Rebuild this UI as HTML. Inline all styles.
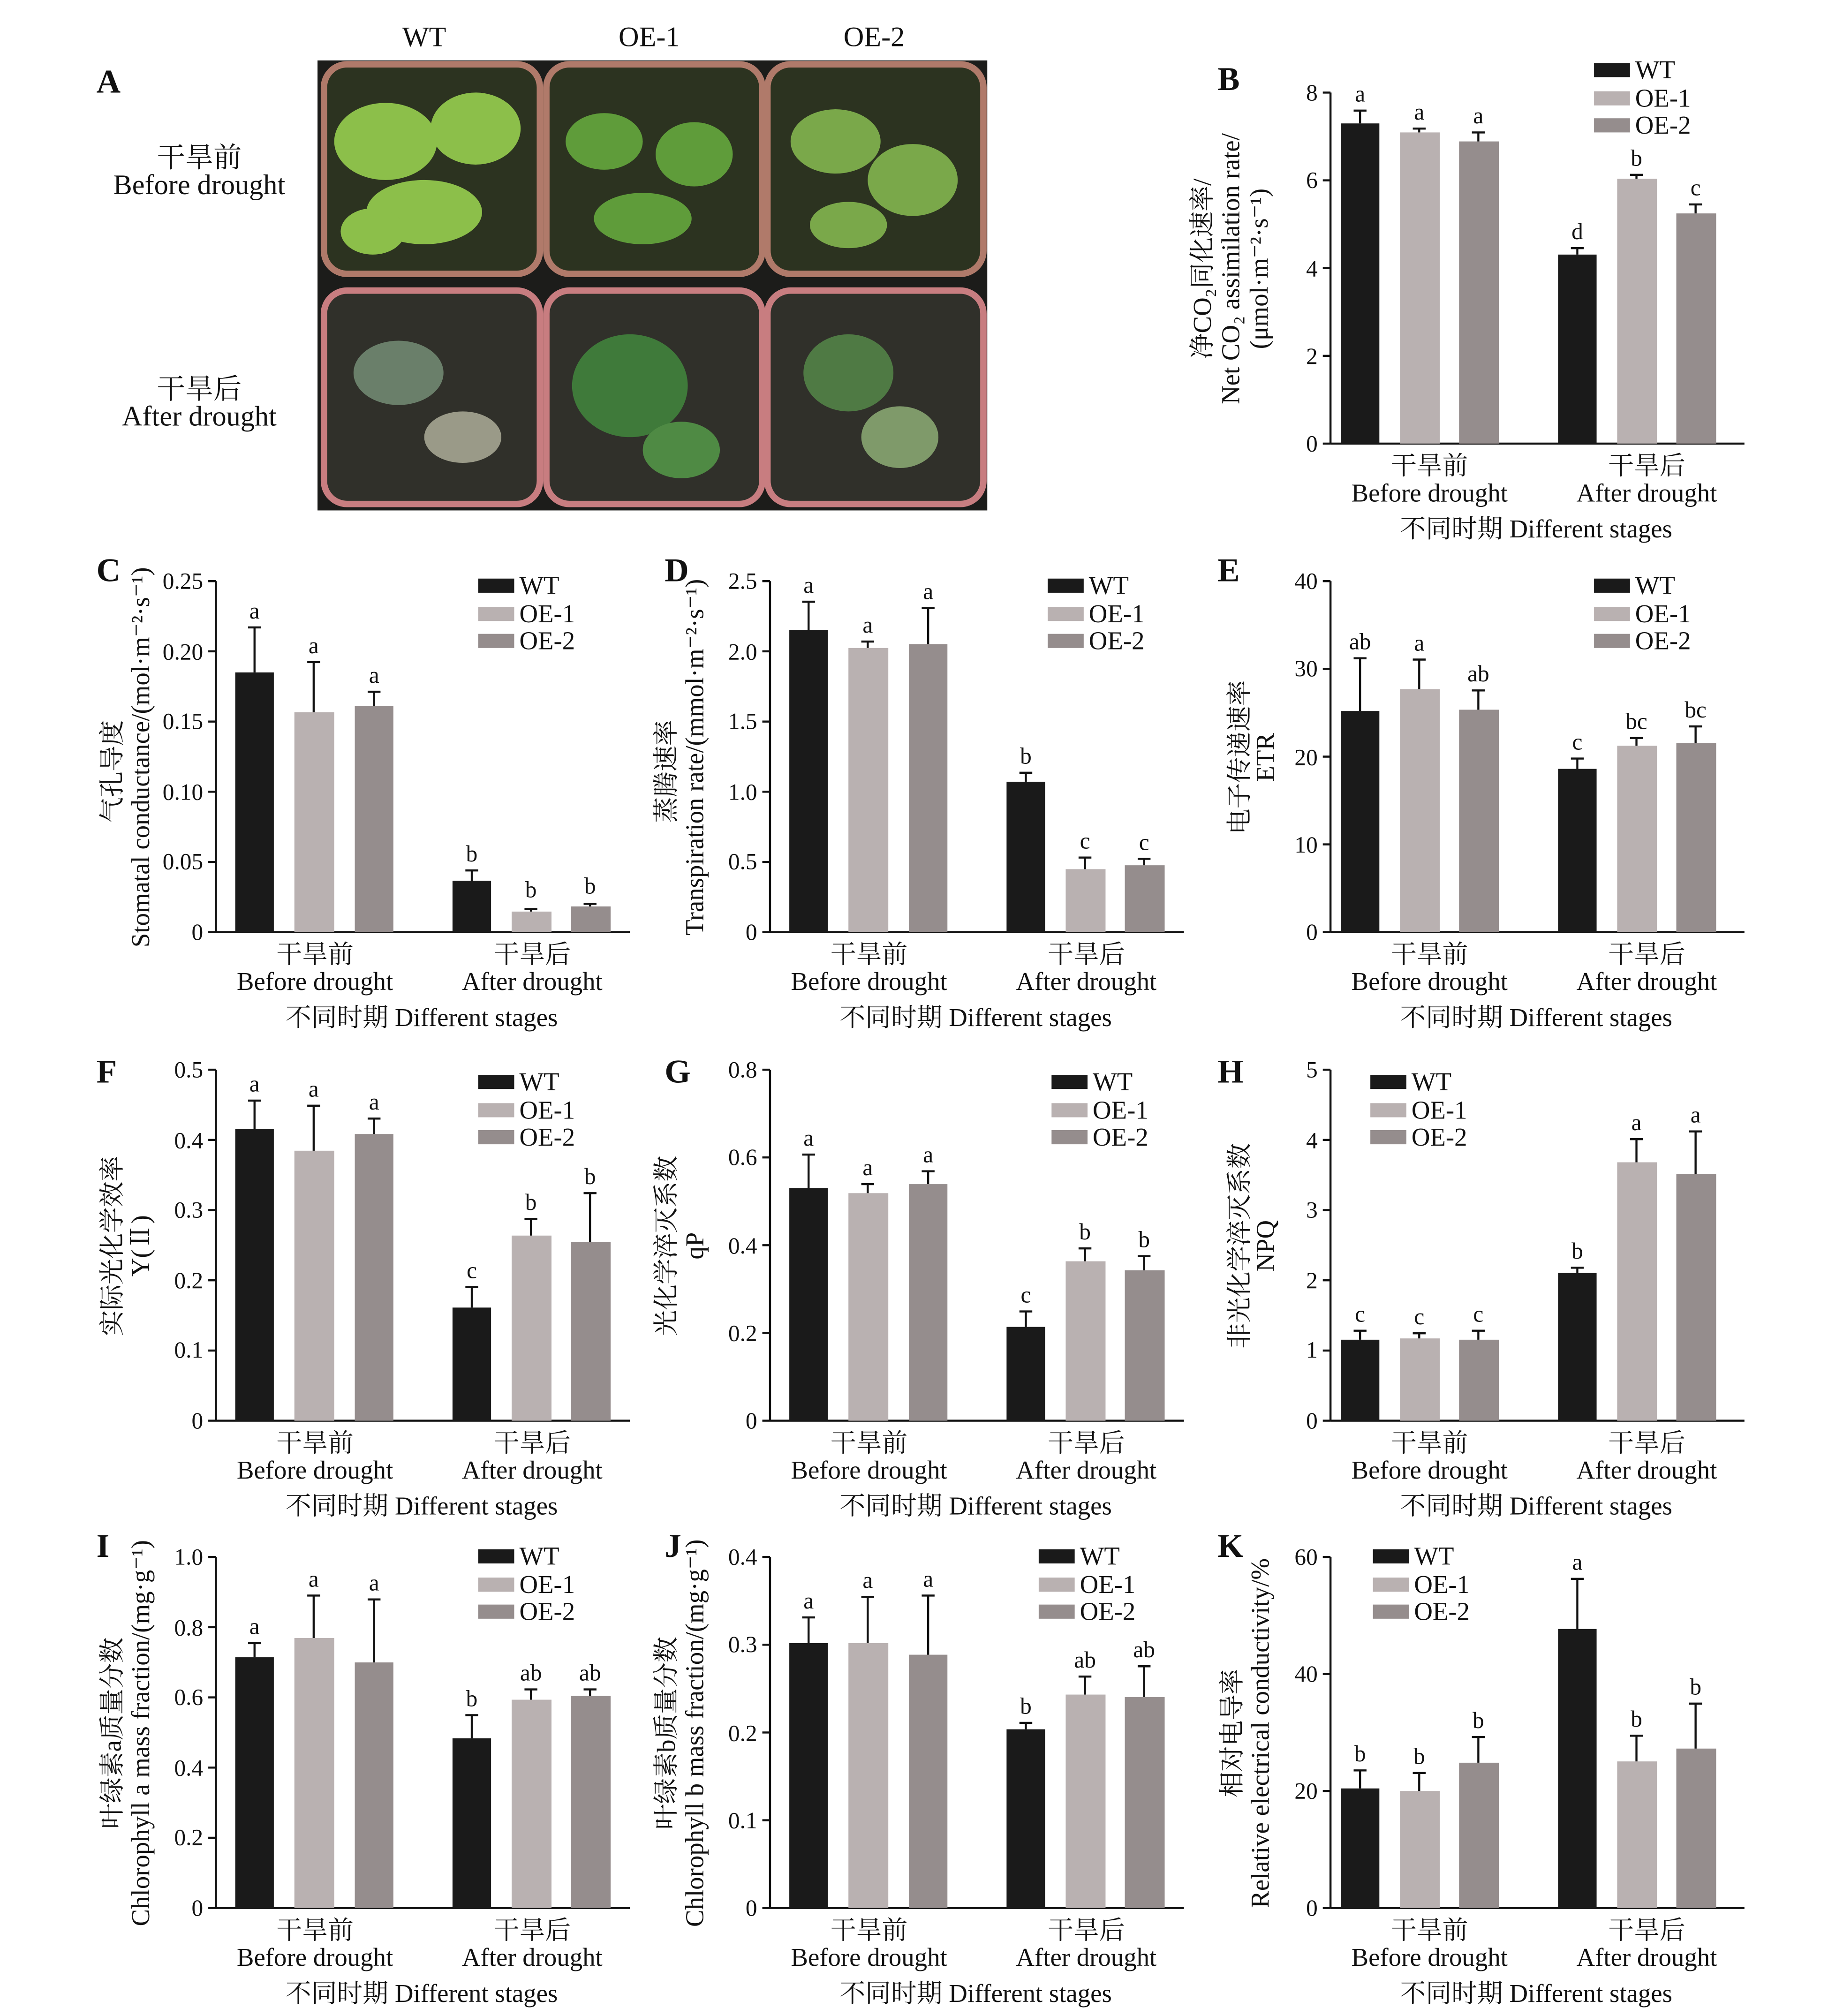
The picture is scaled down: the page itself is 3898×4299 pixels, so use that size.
<!DOCTYPE html>
<html><head><meta charset="utf-8"><style>
html,body{margin:0;padding:0;background:#fff}
svg{display:block}
text{font-family:"Liberation Serif","Noto Serif CJK SC",serif;fill:#111}
.t{font-size:18px}
.l{font-size:20px}
.p{font-size:26px;font-weight:bold}
.k{fill:#1a1a1a}.o1{fill:#b9b1b1}.o2{fill:#958d8d}
.ax line,.ax path{stroke:#111;stroke-width:1.6;fill:none}
.e line{stroke:#111;stroke-width:1.6}
</style></head><body>
<svg width="3898" height="4299" viewBox="0 0 1422 1568" preserveAspectRatio="none" xmlns="http://www.w3.org/2000/svg">
<defs>
<g id="bg">
<path class="ax" d="M0,0H322M0,0V-273" stroke="#111" stroke-width="1.6" fill="none"/>
<text class="l" x="77" y="24" text-anchor="middle">干旱前</text>
<text class="l" x="77" y="45" text-anchor="middle">Before drought</text>
<text class="l" x="246" y="24" text-anchor="middle">干旱后</text>
<text class="l" x="246" y="45" text-anchor="middle">After drought</text>
<text class="l" x="160" y="73" text-anchor="middle">不同时期 Different stages</text>
</g>
<g id="lg">
<rect class="k" x="0" y="-6" width="28" height="11"/><text class="l" x="32" y="6">WT</text>
<rect class="o1" x="0" y="16" width="28" height="11"/><text class="l" x="32" y="28">OE-1</text>
<rect class="o2" x="0" y="37" width="28" height="11"/><text class="l" x="32" y="49">OE-2</text>
</g>
</defs>

<!-- Panel A -->
<text class="p" x="75" y="72">A</text>
<text class="l" x="330" y="36" text-anchor="middle" style="font-size:22px">WT</text>
<text class="l" x="505" y="36" text-anchor="middle" style="font-size:22px">OE-1</text>
<text class="l" x="680" y="36" text-anchor="middle" style="font-size:22px">OE-2</text>
<text class="l" x="155" y="130" text-anchor="middle" style="font-size:22px">干旱前</text>
<text class="l" x="155" y="151" text-anchor="middle" style="font-size:22px">Before drought</text>
<text class="l" x="155" y="310" text-anchor="middle" style="font-size:22px">干旱后</text>
<text class="l" x="155" y="331" text-anchor="middle" style="font-size:22px">After drought</text>
<rect x="247" y="47" width="521" height="350" fill="#1c1c1a"/>
<g stroke="#b07a6a" stroke-width="5">
<rect x="252" y="50" width="168" height="163" rx="18" fill="#2c3320"/>
<rect x="425" y="50" width="168" height="163" rx="18" fill="#2c3320"/>
<rect x="597" y="50" width="168" height="163" rx="18" fill="#2c3320"/>
<rect x="252" y="226" width="168" height="166" rx="18" fill="#30302a" stroke="#c87d80"/>
<rect x="425" y="226" width="168" height="166" rx="18" fill="#30302a" stroke="#c87d80"/>
<rect x="597" y="226" width="168" height="166" rx="18" fill="#30302a" stroke="#c87d80"/>
</g>
<g fill="#8cbf4a">
<ellipse cx="300" cy="110" rx="40" ry="30"/><ellipse cx="370" cy="100" rx="35" ry="28"/><ellipse cx="330" cy="165" rx="45" ry="25"/><ellipse cx="290" cy="180" rx="25" ry="18"/>
<ellipse cx="470" cy="110" rx="30" ry="22" fill="#5f9c3a"/><ellipse cx="540" cy="120" rx="30" ry="25" fill="#5f9c3a"/><ellipse cx="500" cy="170" rx="38" ry="20" fill="#5f9c3a"/>
<ellipse cx="650" cy="110" rx="35" ry="25" fill="#7aa84a"/><ellipse cx="710" cy="140" rx="35" ry="28" fill="#7aa84a"/><ellipse cx="660" cy="175" rx="30" ry="18" fill="#7aa84a"/>
</g>
<g fill="#4a7a4a">
<ellipse cx="310" cy="290" rx="35" ry="25" fill="#6a7f6a"/><ellipse cx="360" cy="340" rx="30" ry="20" fill="#9a9a88"/>
<ellipse cx="490" cy="300" rx="45" ry="40" fill="#3f7a3a"/><ellipse cx="530" cy="350" rx="30" ry="22" fill="#4f8a44"/>
<ellipse cx="660" cy="290" rx="35" ry="30" fill="#4f7a44"/><ellipse cx="700" cy="340" rx="30" ry="24" fill="#7f9a6a"/>
</g>

<!-- Panel B -->
<g transform="translate(1035,345)">
<use href="#bg"/><text class="p" x="-88" y="-275">B</text>
<g class="ax"><line x1="0" x2="-6" y1="0" y2="0"/><line x1="0" x2="-6" y1="-68.25" y2="-68.25"/><line x1="0" x2="-6" y1="-136.5" y2="-136.5"/><line x1="0" x2="-6" y1="-204.75" y2="-204.75"/><line x1="0" x2="-6" y1="-273" y2="-273"/></g>
<g class="t" text-anchor="end"><text x="-10" y="6">0</text><text x="-10" y="-62">2</text><text x="-10" y="-130">4</text><text x="-10" y="-199">6</text><text x="-10" y="-267">8</text></g>
<text class="l" transform="translate(-93,-136) rotate(-90)" text-anchor="middle">净CO₂同化速率/</text>
<text class="l" transform="translate(-71,-136) rotate(-90)" text-anchor="middle">Net CO₂ assimilation rate/</text>
<text class="l" transform="translate(-49,-136) rotate(-90)" text-anchor="middle">(μmol·m⁻²·s⁻¹)</text>
<rect class="k" x="8" y="-249" width="30" height="249"/><rect class="o1" x="54" y="-242" width="31" height="242"/><rect class="o2" x="100" y="-235" width="31" height="235"/>
<rect class="k" x="177" y="-147" width="30" height="147"/><rect class="o1" x="223" y="-206" width="31" height="206"/><rect class="o2" x="269" y="-179" width="31" height="179"/>
<g class="e"><line x1="23" x2="23" y1="-249" y2="-259"/><line x1="18" x2="28" y1="-259" y2="-259"/><line x1="69" x2="69" y1="-242" y2="-245"/><line x1="64" x2="74" y1="-245" y2="-245"/><line x1="115" x2="115" y1="-235" y2="-242"/><line x1="110" x2="120" y1="-242" y2="-242"/>
<line x1="192" x2="192" y1="-147" y2="-152"/><line x1="187" x2="197" y1="-152" y2="-152"/><line x1="238" x2="238" y1="-206" y2="-209"/><line x1="233" x2="243" y1="-209" y2="-209"/><line x1="284" x2="284" y1="-179" y2="-186"/><line x1="279" x2="289" y1="-186" y2="-186"/></g>
<g class="t" text-anchor="middle"><text x="23" y="-266">a</text><text x="69" y="-252">a</text><text x="115" y="-249">a</text><text x="192" y="-159">d</text><text x="238" y="-216">b</text><text x="284" y="-193">c</text></g>
<use href="#lg" x="205" y="-290"/>
</g>

<!-- Panel C -->
<g transform="translate(168,725)">
<use href="#bg"/><text class="p" x="-93" y="-273">C</text>
<g class="ax"><line x1="0" x2="-6" y1="0" y2="0"/><line x1="0" x2="-6" y1="-54.6" y2="-54.6"/><line x1="0" x2="-6" y1="-109.2" y2="-109.2"/><line x1="0" x2="-6" y1="-163.8" y2="-163.8"/><line x1="0" x2="-6" y1="-218.4" y2="-218.4"/><line x1="0" x2="-6" y1="-273" y2="-273"/></g>
<g class="t" text-anchor="end"><text x="-10" y="6">0</text><text x="-10" y="-49">0.05</text><text x="-10" y="-103">0.10</text><text x="-10" y="-158">0.15</text><text x="-10" y="-212">0.20</text><text x="-10" y="-267">0.25</text></g>
<text class="l" transform="translate(-74,-125) rotate(-90)" text-anchor="middle">气孔导度</text>
<text class="l" transform="translate(-52,-136) rotate(-90)" text-anchor="middle">Stomatal conductance/(mol·m⁻²·s⁻¹)</text>
<rect class="k" x="15" y="-202" width="30" height="202"/><rect class="o1" x="61" y="-171" width="31" height="171"/><rect class="o2" x="108" y="-176" width="30" height="176"/>
<rect class="k" x="184" y="-40" width="30" height="40"/><rect class="o1" x="230" y="-16" width="31" height="16"/><rect class="o2" x="276" y="-20" width="31" height="20"/>
<g class="e"><line x1="30" x2="30" y1="-202" y2="-237"/><line x1="25" x2="35" y1="-237" y2="-237"/><line x1="76" x2="76" y1="-171" y2="-210"/><line x1="71" x2="81" y1="-210" y2="-210"/><line x1="123" x2="123" y1="-176" y2="-187"/><line x1="118" x2="128" y1="-187" y2="-187"/>
<line x1="199" x2="199" y1="-40" y2="-48"/><line x1="194" x2="204" y1="-48" y2="-48"/><line x1="245" x2="245" y1="-16" y2="-18"/><line x1="240" x2="250" y1="-18" y2="-18"/><line x1="291" x2="291" y1="-20" y2="-22"/><line x1="286" x2="296" y1="-22" y2="-22"/></g>
<g class="t" text-anchor="middle"><text x="30" y="-244">a</text><text x="76" y="-217">a</text><text x="123" y="-194">a</text><text x="199" y="-55">b</text><text x="245" y="-27">b</text><text x="291" y="-30">b</text></g>
<use href="#lg" x="204" y="-269"/>
</g>

<!-- Panel D -->
<g transform="translate(599,725)">
<use href="#bg"/><text class="p" x="-82" y="-273">D</text>
<g class="ax"><line x1="0" x2="-6" y1="0" y2="0"/><line x1="0" x2="-6" y1="-54.6" y2="-54.6"/><line x1="0" x2="-6" y1="-109.2" y2="-109.2"/><line x1="0" x2="-6" y1="-163.8" y2="-163.8"/><line x1="0" x2="-6" y1="-218.4" y2="-218.4"/><line x1="0" x2="-6" y1="-273" y2="-273"/></g>
<g class="t" text-anchor="end"><text x="-10" y="6">0</text><text x="-10" y="-49">0.5</text><text x="-10" y="-103">1.0</text><text x="-10" y="-158">1.5</text><text x="-10" y="-212">2.0</text><text x="-10" y="-267">2.5</text></g>
<text class="l" transform="translate(-74,-125) rotate(-90)" text-anchor="middle">蒸腾速率</text>
<text class="l" transform="translate(-52,-136) rotate(-90)" text-anchor="middle">Transpiration rate/(mmol·m⁻²·s⁻¹)</text>
<rect class="k" x="15" y="-235" width="30" height="235"/><rect class="o1" x="61" y="-221" width="31" height="221"/><rect class="o2" x="108" y="-224" width="30" height="224"/>
<rect class="k" x="184" y="-117" width="30" height="117"/><rect class="o1" x="230" y="-49" width="31" height="49"/><rect class="o2" x="276" y="-52" width="31" height="52"/>
<g class="e"><line x1="30" x2="30" y1="-235" y2="-257"/><line x1="25" x2="35" y1="-257" y2="-257"/><line x1="76" x2="76" y1="-221" y2="-226"/><line x1="71" x2="81" y1="-226" y2="-226"/><line x1="123" x2="123" y1="-224" y2="-252"/><line x1="118" x2="128" y1="-252" y2="-252"/>
<line x1="199" x2="199" y1="-117" y2="-124"/><line x1="194" x2="204" y1="-124" y2="-124"/><line x1="245" x2="245" y1="-49" y2="-58"/><line x1="240" x2="250" y1="-58" y2="-58"/><line x1="291" x2="291" y1="-52" y2="-57"/><line x1="286" x2="296" y1="-57" y2="-57"/></g>
<g class="t" text-anchor="middle"><text x="30" y="-264">a</text><text x="76" y="-233">a</text><text x="123" y="-259">a</text><text x="199" y="-131">b</text><text x="245" y="-65">c</text><text x="291" y="-64">c</text></g>
<use href="#lg" x="216" y="-269"/>
</g>

<!-- Panel E -->
<g transform="translate(1035,725)">
<use href="#bg"/><text class="p" x="-88" y="-273">E</text>
<g class="ax"><line x1="0" x2="-6" y1="0" y2="0"/><line x1="0" x2="-6" y1="-68.25" y2="-68.25"/><line x1="0" x2="-6" y1="-136.5" y2="-136.5"/><line x1="0" x2="-6" y1="-204.75" y2="-204.75"/><line x1="0" x2="-6" y1="-273" y2="-273"/></g>
<g class="t" text-anchor="end"><text x="-10" y="6">0</text><text x="-10" y="-62">10</text><text x="-10" y="-130">20</text><text x="-10" y="-199">30</text><text x="-10" y="-267">40</text></g>
<text class="l" transform="translate(-64,-136) rotate(-90)" text-anchor="middle">电子传递速率</text>
<text class="l" transform="translate(-44,-136) rotate(-90)" text-anchor="middle">ETR</text>
<rect class="k" x="8" y="-172" width="30" height="172"/><rect class="o1" x="54" y="-189" width="31" height="189"/><rect class="o2" x="100" y="-173" width="31" height="173"/>
<rect class="k" x="177" y="-127" width="30" height="127"/><rect class="o1" x="223" y="-145" width="31" height="145"/><rect class="o2" x="269" y="-147" width="31" height="147"/>
<g class="e"><line x1="23" x2="23" y1="-172" y2="-213"/><line x1="18" x2="28" y1="-213" y2="-213"/><line x1="69" x2="69" y1="-189" y2="-212"/><line x1="64" x2="74" y1="-212" y2="-212"/><line x1="115" x2="115" y1="-173" y2="-188"/><line x1="110" x2="120" y1="-188" y2="-188"/>
<line x1="192" x2="192" y1="-127" y2="-135"/><line x1="187" x2="197" y1="-135" y2="-135"/><line x1="238" x2="238" y1="-145" y2="-151"/><line x1="233" x2="243" y1="-151" y2="-151"/><line x1="284" x2="284" y1="-147" y2="-160"/><line x1="279" x2="289" y1="-160" y2="-160"/></g>
<g class="t" text-anchor="middle"><text x="23" y="-220">ab</text><text x="69" y="-219">a</text><text x="115" y="-195">ab</text><text x="192" y="-142">c</text><text x="238" y="-158">bc</text><text x="284" y="-167">bc</text></g>
<use href="#lg" x="205" y="-269"/>
</g>

<!-- Panel F -->
<g transform="translate(168,1105)">
<use href="#bg"/><text class="p" x="-93" y="-263">F</text>
<g class="ax"><line x1="0" x2="-6" y1="0" y2="0"/><line x1="0" x2="-6" y1="-54.6" y2="-54.6"/><line x1="0" x2="-6" y1="-109.2" y2="-109.2"/><line x1="0" x2="-6" y1="-163.8" y2="-163.8"/><line x1="0" x2="-6" y1="-218.4" y2="-218.4"/><line x1="0" x2="-6" y1="-273" y2="-273"/></g>
<g class="t" text-anchor="end"><text x="-10" y="6">0</text><text x="-10" y="-49">0.1</text><text x="-10" y="-103">0.2</text><text x="-10" y="-158">0.3</text><text x="-10" y="-212">0.4</text><text x="-10" y="-267">0.5</text></g>
<text class="l" transform="translate(-74,-136) rotate(-90)" text-anchor="middle">实际光化学效率</text>
<text class="l" transform="translate(-52,-136) rotate(-90)" text-anchor="middle">Y(Ⅱ)</text>
<rect class="k" x="15" y="-227" width="30" height="227"/><rect class="o1" x="61" y="-210" width="31" height="210"/><rect class="o2" x="108" y="-223" width="30" height="223"/>
<rect class="k" x="184" y="-88" width="30" height="88"/><rect class="o1" x="230" y="-144" width="31" height="144"/><rect class="o2" x="276" y="-139" width="31" height="139"/>
<g class="e"><line x1="30" x2="30" y1="-227" y2="-249"/><line x1="25" x2="35" y1="-249" y2="-249"/><line x1="76" x2="76" y1="-210" y2="-245"/><line x1="71" x2="81" y1="-245" y2="-245"/><line x1="123" x2="123" y1="-223" y2="-235"/><line x1="118" x2="128" y1="-235" y2="-235"/>
<line x1="199" x2="199" y1="-88" y2="-104"/><line x1="194" x2="204" y1="-104" y2="-104"/><line x1="245" x2="245" y1="-144" y2="-157"/><line x1="240" x2="250" y1="-157" y2="-157"/><line x1="291" x2="291" y1="-139" y2="-177"/><line x1="286" x2="296" y1="-177" y2="-177"/></g>
<g class="t" text-anchor="middle"><text x="30" y="-256">a</text><text x="76" y="-252">a</text><text x="123" y="-242">a</text><text x="199" y="-111">c</text><text x="245" y="-164">b</text><text x="291" y="-184">b</text></g>
<use href="#lg" x="204" y="-263"/>
</g>

<!-- Panel G -->
<g transform="translate(599,1105)">
<use href="#bg"/><text class="p" x="-82" y="-263">G</text>
<g class="ax"><line x1="0" x2="-6" y1="0" y2="0"/><line x1="0" x2="-6" y1="-68.25" y2="-68.25"/><line x1="0" x2="-6" y1="-136.5" y2="-136.5"/><line x1="0" x2="-6" y1="-204.75" y2="-204.75"/><line x1="0" x2="-6" y1="-273" y2="-273"/></g>
<g class="t" text-anchor="end"><text x="-10" y="6">0</text><text x="-10" y="-62">0.2</text><text x="-10" y="-130">0.4</text><text x="-10" y="-199">0.6</text><text x="-10" y="-267">0.8</text></g>
<text class="l" transform="translate(-74,-136) rotate(-90)" text-anchor="middle">光化学淬灭系数</text>
<text class="l" transform="translate(-52,-136) rotate(-90)" text-anchor="middle">qP</text>
<rect class="k" x="15" y="-181" width="30" height="181"/><rect class="o1" x="61" y="-177" width="31" height="177"/><rect class="o2" x="108" y="-184" width="30" height="184"/>
<rect class="k" x="184" y="-73" width="30" height="73"/><rect class="o1" x="230" y="-124" width="31" height="124"/><rect class="o2" x="276" y="-117" width="31" height="117"/>
<g class="e"><line x1="30" x2="30" y1="-181" y2="-207"/><line x1="25" x2="35" y1="-207" y2="-207"/><line x1="76" x2="76" y1="-177" y2="-184"/><line x1="71" x2="81" y1="-184" y2="-184"/><line x1="123" x2="123" y1="-184" y2="-194"/><line x1="118" x2="128" y1="-194" y2="-194"/>
<line x1="199" x2="199" y1="-73" y2="-85"/><line x1="194" x2="204" y1="-85" y2="-85"/><line x1="245" x2="245" y1="-124" y2="-134"/><line x1="240" x2="250" y1="-134" y2="-134"/><line x1="291" x2="291" y1="-117" y2="-128"/><line x1="286" x2="296" y1="-128" y2="-128"/></g>
<g class="t" text-anchor="middle"><text x="30" y="-214">a</text><text x="76" y="-191">a</text><text x="123" y="-201">a</text><text x="199" y="-92">c</text><text x="245" y="-141">b</text><text x="291" y="-135">b</text></g>
<use href="#lg" x="219" y="-263"/>
</g>

<!-- Panel H -->
<g transform="translate(1035,1105)">
<use href="#bg"/><text class="p" x="-88" y="-263">H</text>
<g class="ax"><line x1="0" x2="-6" y1="0" y2="0"/><line x1="0" x2="-6" y1="-54.6" y2="-54.6"/><line x1="0" x2="-6" y1="-109.2" y2="-109.2"/><line x1="0" x2="-6" y1="-163.8" y2="-163.8"/><line x1="0" x2="-6" y1="-218.4" y2="-218.4"/><line x1="0" x2="-6" y1="-273" y2="-273"/></g>
<g class="t" text-anchor="end"><text x="-10" y="6">0</text><text x="-10" y="-49">1</text><text x="-10" y="-103">2</text><text x="-10" y="-158">3</text><text x="-10" y="-212">4</text><text x="-10" y="-267">5</text></g>
<text class="l" transform="translate(-64,-136) rotate(-90)" text-anchor="middle">非光化学淬灭系数</text>
<text class="l" transform="translate(-44,-136) rotate(-90)" text-anchor="middle">NPQ</text>
<rect class="k" x="8" y="-63" width="30" height="63"/><rect class="o1" x="54" y="-64" width="31" height="64"/><rect class="o2" x="100" y="-63" width="31" height="63"/>
<rect class="k" x="177" y="-115" width="30" height="115"/><rect class="o1" x="223" y="-201" width="31" height="201"/><rect class="o2" x="269" y="-192" width="31" height="192"/>
<g class="e"><line x1="23" x2="23" y1="-63" y2="-70"/><line x1="18" x2="28" y1="-70" y2="-70"/><line x1="69" x2="69" y1="-64" y2="-68"/><line x1="64" x2="74" y1="-68" y2="-68"/><line x1="115" x2="115" y1="-63" y2="-70"/><line x1="110" x2="120" y1="-70" y2="-70"/>
<line x1="192" x2="192" y1="-115" y2="-119"/><line x1="187" x2="197" y1="-119" y2="-119"/><line x1="238" x2="238" y1="-201" y2="-219"/><line x1="233" x2="243" y1="-219" y2="-219"/><line x1="284" x2="284" y1="-192" y2="-225"/><line x1="279" x2="289" y1="-225" y2="-225"/></g>
<g class="t" text-anchor="middle"><text x="23" y="-77">c</text><text x="69" y="-75">c</text><text x="115" y="-77">c</text><text x="192" y="-126">b</text><text x="238" y="-226">a</text><text x="284" y="-232">a</text></g>
<use href="#lg" x="31" y="-263"/>
</g>

<!-- Panel I -->
<g transform="translate(168,1484)">
<use href="#bg"/><text class="p" x="-93" y="-273">I</text>
<g class="ax"><line x1="0" x2="-6" y1="0" y2="0"/><line x1="0" x2="-6" y1="-54.6" y2="-54.6"/><line x1="0" x2="-6" y1="-109.2" y2="-109.2"/><line x1="0" x2="-6" y1="-163.8" y2="-163.8"/><line x1="0" x2="-6" y1="-218.4" y2="-218.4"/><line x1="0" x2="-6" y1="-273" y2="-273"/></g>
<g class="t" text-anchor="end"><text x="-10" y="6">0</text><text x="-10" y="-49">0.2</text><text x="-10" y="-103">0.4</text><text x="-10" y="-158">0.6</text><text x="-10" y="-212">0.8</text><text x="-10" y="-267">1.0</text></g>
<text class="l" transform="translate(-74,-136) rotate(-90)" text-anchor="middle">叶绿素a质量分数</text>
<text class="l" transform="translate(-52,-136) rotate(-90)" text-anchor="middle">Chlorophyll a mass fraction/(mg·g⁻¹)</text>
<rect class="k" x="15" y="-195" width="30" height="195"/><rect class="o1" x="61" y="-210" width="31" height="210"/><rect class="o2" x="108" y="-191" width="30" height="191"/>
<rect class="k" x="184" y="-132" width="30" height="132"/><rect class="o1" x="230" y="-162" width="31" height="162"/><rect class="o2" x="276" y="-165" width="31" height="165"/>
<g class="e"><line x1="30" x2="30" y1="-195" y2="-206"/><line x1="25" x2="35" y1="-206" y2="-206"/><line x1="76" x2="76" y1="-210" y2="-243"/><line x1="71" x2="81" y1="-243" y2="-243"/><line x1="123" x2="123" y1="-191" y2="-240"/><line x1="118" x2="128" y1="-240" y2="-240"/>
<line x1="199" x2="199" y1="-132" y2="-150"/><line x1="194" x2="204" y1="-150" y2="-150"/><line x1="245" x2="245" y1="-162" y2="-170"/><line x1="240" x2="250" y1="-170" y2="-170"/><line x1="291" x2="291" y1="-165" y2="-170"/><line x1="286" x2="296" y1="-170" y2="-170"/></g>
<g class="t" text-anchor="middle"><text x="30" y="-213">a</text><text x="76" y="-250">a</text><text x="123" y="-247">a</text><text x="199" y="-157">b</text><text x="245" y="-177">ab</text><text x="291" y="-177">ab</text></g>
<use href="#lg" x="204" y="-273"/>
</g>

<!-- Panel J -->
<g transform="translate(599,1484)">
<use href="#bg"/><text class="p" x="-82" y="-273">J</text>
<g class="ax"><line x1="0" x2="-6" y1="0" y2="0"/><line x1="0" x2="-6" y1="-68.25" y2="-68.25"/><line x1="0" x2="-6" y1="-136.5" y2="-136.5"/><line x1="0" x2="-6" y1="-204.75" y2="-204.75"/><line x1="0" x2="-6" y1="-273" y2="-273"/></g>
<g class="t" text-anchor="end"><text x="-10" y="6">0</text><text x="-10" y="-62">0.1</text><text x="-10" y="-130">0.2</text><text x="-10" y="-199">0.3</text><text x="-10" y="-267">0.4</text></g>
<text class="l" transform="translate(-74,-136) rotate(-90)" text-anchor="middle">叶绿素b质量分数</text>
<text class="l" transform="translate(-52,-136) rotate(-90)" text-anchor="middle">Chlorophyll b mass fraction/(mg·g⁻¹)</text>
<rect class="k" x="15" y="-206" width="30" height="206"/><rect class="o1" x="61" y="-206" width="31" height="206"/><rect class="o2" x="108" y="-197" width="30" height="197"/>
<rect class="k" x="184" y="-139" width="30" height="139"/><rect class="o1" x="230" y="-166" width="31" height="166"/><rect class="o2" x="276" y="-164" width="31" height="164"/>
<g class="e"><line x1="30" x2="30" y1="-206" y2="-226"/><line x1="25" x2="35" y1="-226" y2="-226"/><line x1="76" x2="76" y1="-206" y2="-242"/><line x1="71" x2="81" y1="-242" y2="-242"/><line x1="123" x2="123" y1="-197" y2="-243"/><line x1="118" x2="128" y1="-243" y2="-243"/>
<line x1="199" x2="199" y1="-139" y2="-144"/><line x1="194" x2="204" y1="-144" y2="-144"/><line x1="245" x2="245" y1="-166" y2="-180"/><line x1="240" x2="250" y1="-180" y2="-180"/><line x1="291" x2="291" y1="-164" y2="-188"/><line x1="286" x2="296" y1="-188" y2="-188"/></g>
<g class="t" text-anchor="middle"><text x="30" y="-233">a</text><text x="76" y="-249">a</text><text x="123" y="-250">a</text><text x="199" y="-151">b</text><text x="245" y="-187">ab</text><text x="291" y="-195">ab</text></g>
<use href="#lg" x="209" y="-273"/>
</g>

<!-- Panel K -->
<g transform="translate(1035,1484)">
<use href="#bg"/><text class="p" x="-88" y="-273">K</text>
<g class="ax"><line x1="0" x2="-6" y1="0" y2="0"/><line x1="0" x2="-6" y1="-91" y2="-91"/><line x1="0" x2="-6" y1="-182" y2="-182"/><line x1="0" x2="-6" y1="-273" y2="-273"/></g>
<g class="t" text-anchor="end"><text x="-10" y="6">0</text><text x="-10" y="-85">20</text><text x="-10" y="-176">40</text><text x="-10" y="-267">60</text></g>
<text class="l" transform="translate(-70,-136) rotate(-90)" text-anchor="middle">相对电导率</text>
<text class="l" transform="translate(-48,-136) rotate(-90)" text-anchor="middle">Relative electrical conductivity/%</text>
<rect class="k" x="8" y="-93" width="30" height="93"/><rect class="o1" x="54" y="-91" width="31" height="91"/><rect class="o2" x="100" y="-113" width="31" height="113"/>
<rect class="k" x="177" y="-217" width="30" height="217"/><rect class="o1" x="223" y="-114" width="31" height="114"/><rect class="o2" x="269" y="-124" width="31" height="124"/>
<g class="e"><line x1="23" x2="23" y1="-93" y2="-107"/><line x1="18" x2="28" y1="-107" y2="-107"/><line x1="69" x2="69" y1="-91" y2="-105"/><line x1="64" x2="74" y1="-105" y2="-105"/><line x1="115" x2="115" y1="-113" y2="-133"/><line x1="110" x2="120" y1="-133" y2="-133"/>
<line x1="192" x2="192" y1="-217" y2="-256"/><line x1="187" x2="197" y1="-256" y2="-256"/><line x1="238" x2="238" y1="-114" y2="-134"/><line x1="233" x2="243" y1="-134" y2="-134"/><line x1="284" x2="284" y1="-124" y2="-159"/><line x1="279" x2="289" y1="-159" y2="-159"/></g>
<g class="t" text-anchor="middle"><text x="23" y="-114">b</text><text x="69" y="-112">b</text><text x="115" y="-140">b</text><text x="192" y="-263">a</text><text x="238" y="-141">b</text><text x="284" y="-166">b</text></g>
<use href="#lg" x="33" y="-273"/>
</g>
</svg>
</body></html>
